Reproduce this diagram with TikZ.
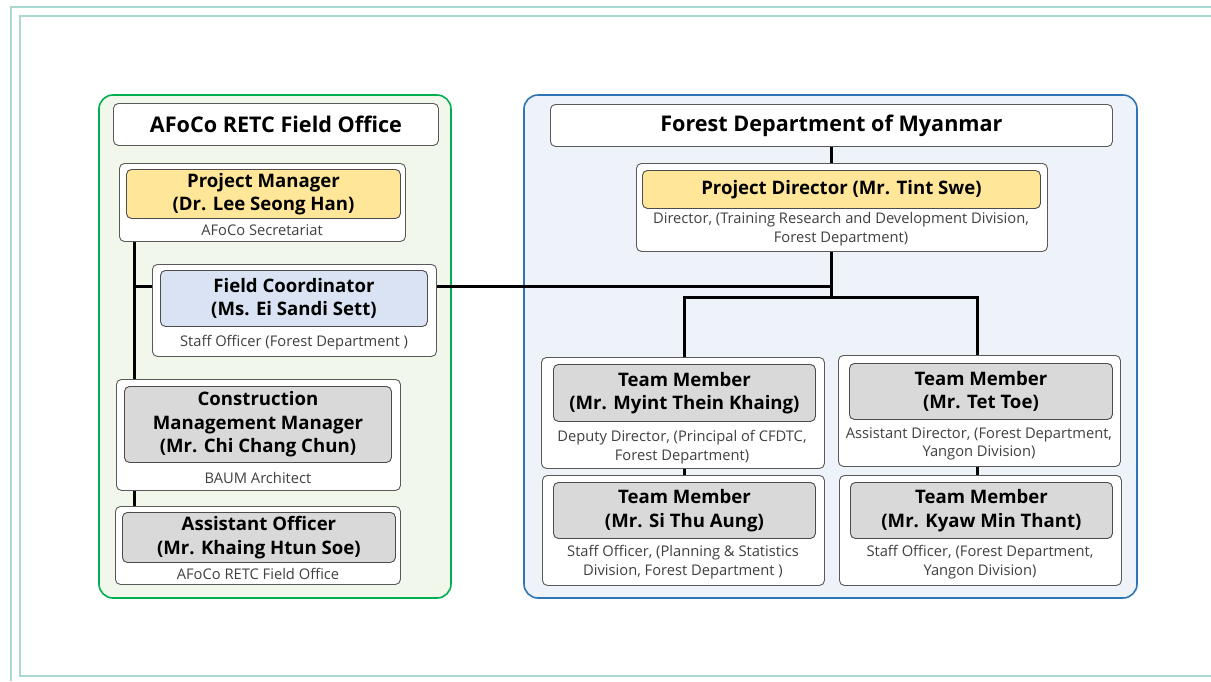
\documentclass[tikz,border=0pt]{standalone}
\usepackage{fontspec}
\setmainfont{Open Sans}
\usepackage{tikz}
\usetikzlibrary{positioning}
\usepackage{xcolor}
\definecolor{myframe}{RGB}{168, 216, 208}
\definecolor{mygreen}{RGB}{0, 176, 80}
\definecolor{mygreenfill}{RGB}{241, 247, 235}
\definecolor{myblue}{RGB}{46, 117, 182}
\definecolor{mybluefill}{RGB}{238, 243, 250}
\definecolor{myyellow}{RGB}{255, 230, 153}
\definecolor{myslate}{RGB}{218, 227, 243}
\definecolor{mygray}{RGB}{217, 217, 217}
\definecolor{mycaption}{RGB}{64, 64, 64}
\pgfdeclarelayer{background}
\pgfdeclarelayer{edges}
\pgfsetlayers{background,edges,main}

\begin{document}
\begin{tikzpicture}[
            x=1pt, y=-1pt,
            group/.style={
                rounded corners=14pt,
                draw=#1,
                fill=#1fill,
                line width=1.6pt
            },
            card/.style={
                rectangle,
                rounded corners=5pt,
                draw=black!65,
                fill=white,
                line width=0.9pt,
                anchor=north west,
                inner sep=0pt
            },
            role/.style={
                card,
                draw=black!70,
                fill=#1,
                align=center,
                font=\fontsize{18.6}{23.5}\selectfont\bfseries
            },
            heading/.style={
                card,
                font=\fontsize{21.6}{25}\selectfont\bfseries
            },
            note/.style={
                align=center,
                text=mycaption,
                inner sep=0pt,
                font=\fontsize{14.7}{18.5}\selectfont
            },
            link/.style={line width=3pt, black}
        ]
            \useasboundingbox (0,0) rectangle (1211,681);

            % page frame
            \draw[myframe, line width=2pt] (11,681) -- (11,7) -- (1211,7);
            \draw[myframe, line width=2pt] (1211,16) -- (20,16) -- (20,676) -- (1211,676);

            % Groups
            \begin{pgfonlayer}{background}
                \draw[group=mygreen] (99,95) rectangle (451,598);
                \draw[group=myblue] (524,95) rectangle (1137,598);
            \end{pgfonlayer}

            % Nodes: AFoCo side
            \node[heading, minimum width=325, minimum height=42] (afoco) at (113,103) {AFoCo RETC Field Office};

            \node[card, minimum width=286, minimum height=78] (pmcard) at (119,163) {};
            \node[role=myyellow, minimum width=274, minimum height=49] (pm) at (126,169) {Project Manager\\(Dr. Lee Seong Han)};
            \node[note] (pmnote) at (262,230) {AFoCo Secretariat};

            \node[card, minimum width=284, minimum height=92] (fccard) at (152,264) {};
            \node[role=myslate, minimum width=267, minimum height=56] (fc) at (160,270) {Field Coordinator\\(Ms. Ei Sandi Sett)};
            \node[note] (fcnote) at (294,343) {Staff Officer (Forest Department )};

            \node[card, minimum width=284, minimum height=111] (cmcard) at (116,379) {};
            \node[role=mygray, minimum width=267, minimum height=76] (cm) at (124,386) {Construction\\Management Manager\\(Mr. Chi Chang Chun)};
            \node[note] (cmnote) at (258,478) {BAUM Architect};

            \node[card, minimum width=285, minimum height=78] (aocard) at (115,506) {};
            \node[role=mygray, minimum width=273, minimum height=50] (ao) at (122,512) {Assistant Officer\\(Mr. Khaing Htun Soe)};
            \node[note] (aonote) at (258,574) {AFoCo RETC Field Office};

            % Nodes: Forest Department side
            \node[heading, minimum width=562, minimum height=42] (fdm) at (550,104) {Forest Department of Myanmar};

            \node[card, minimum width=411, minimum height=88] (pdcard) at (636,163) {};
            \node[role=myyellow, minimum width=398, minimum height=38] (pd) at (642,170) {Project Director (Mr. Tint Swe)};
            \node[note] (pdnote) at (841,229) {Director, (Training Research and Development Division,\\Forest Department)};

            \node[card, minimum width=283, minimum height=111] (tmacard) at (541,357) {};
            \node[role=mygray, minimum width=262, minimum height=57] (tma) at (553,364) {Team Member\\(Mr. Myint Thein Khaing)};
            \node[note] (tmanote) at (682,447) {Deputy Director, (Principal of CFDTC,\\Forest Department)};

            \node[card, minimum width=282, minimum height=111] (tmbcard) at (838,355) {};
            \node[role=mygray, minimum width=263, minimum height=56] (tmb) at (849,363) {Team Member\\(Mr. Tet Toe)};
            \node[note] (tmbnote) at (979,444) {Assistant Director, (Forest Department,\\Yangon Division)};

            \node[card, minimum width=282, minimum height=110] (tmccard) at (542,475) {};
            \node[role=mygray, minimum width=262, minimum height=56] (tmc) at (553,482) {Team Member\\(Mr. Si Thu Aung)};
            \node[note] (tmcnote) at (683,562) {Staff Officer, (Planning \& Statistics\\Division, Forest Department )};

            \node[card, minimum width=282, minimum height=110] (tmdcard) at (839,475) {};
            \node[role=mygray, minimum width=262, minimum height=56] (tmd) at (850,482) {Team Member\\(Mr. Kyaw Min Thant)};
            \node[note] (tmdnote) at (980,562) {Staff Officer, (Forest Department,\\Yangon Division)};

            \coordinate (spine) at ([xshift=15]pmcard.south west);
            \coordinate (fcjoin) at (fdm.south |- 0,286);
            \coordinate (hub) at (fdm.south |- 0,297);

            % Lines
            \begin{pgfonlayer}{edges}
                \draw[link] (spine) -- (spine |- aocard.north);
                \draw[link] (spine |- fcjoin) -- (fccard.west |- fcjoin);
                \draw[link] (fccard.east |- fcjoin) -- (fcjoin);
                \draw[link] (fdm.south) -- (fdm.south |- pdcard.north);
                \draw[link] (fdm.south |- pdcard.south) -- (hub);
                \draw[link] ([xshift=2]tmacard.north) |- (hub) -| ([xshift=-2]tmbcard.north);
                \draw[link] ([xshift=2]tmacard.south) -- ([xshift=2]tmacard.south |- tmccard.north);
                \draw[link] ([xshift=-2]tmbcard.south) -- ([xshift=-2]tmbcard.south |- tmdcard.north);
            \end{pgfonlayer}
        \end{tikzpicture}
\end{document}
